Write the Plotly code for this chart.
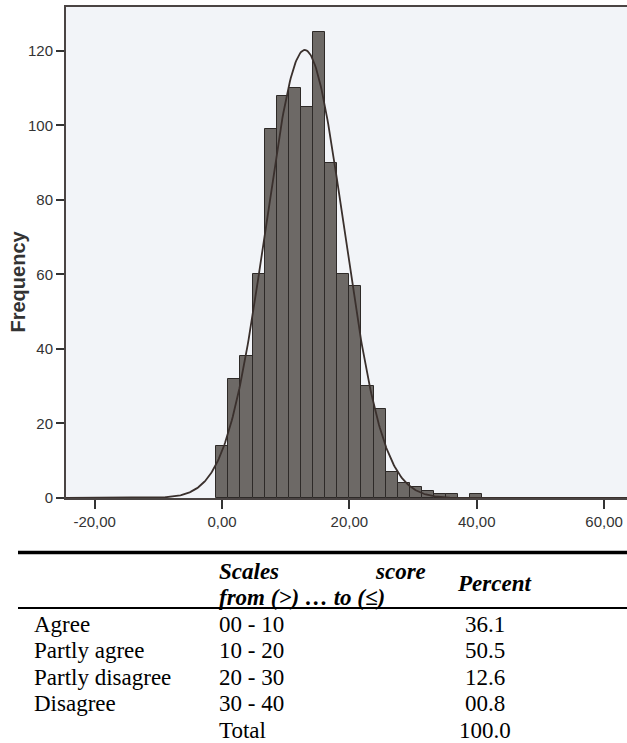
import numpy as np
import plotly.graph_objects as go

# ---------------- data ----------------
BIN_START = -0.9
BIN_WIDTH = 1.9
counts = [14, 32, 38, 60, 99, 108, 110, 105, 125, 90, 60, 57, 30, 24, 7, 4, 3, 2, 1, 1, 0, 1]
MEAN = 13.0
SD = 6.12

x_tick_vals = [-20, 0, 20, 40, 60]
x_tick_text = ["-20,00", "0,00", "20,00", "40,00", "60,00"]
y_tick_vals = [0, 20, 40, 60, 80, 100, 120]

categories = ["Agree", "Partly agree", "Partly disagree", "Disagree", ""]
score_ranges = ["00 - 10", "10 - 20", "20 - 30", "30 - 40", "Total"]
percents = ["36.1", "50.5", "12.6", "00.8", "100.0"]

# ---------------- derived ----------------
counts_arr = np.array(counts, dtype=float)
centers = BIN_START + BIN_WIDTH * (np.arange(len(counts)) + 0.5)
N = counts_arr.sum()
xc = np.linspace(-24.5, 63.6, 600)
yc = N * BIN_WIDTH * np.exp(-0.5 * ((xc - MEAN) / SD) ** 2) / (SD * np.sqrt(2 * np.pi))

W, H = 627, 743
ML, MR, MT, MB = 66, 0, 7, 245
PW = W - ML - MR
PH = H - MT - MB


def px(x):
    return (x - ML) / PW


def py(y):
    return (H - MB - y) / PH


fig = go.Figure()
fig.add_trace(go.Bar(
    x=centers, y=counts_arr, width=BIN_WIDTH,
    marker=dict(color="#6d6966", line=dict(color="#2e2a28", width=1)),
    hoverinfo="skip", showlegend=False,
))
fig.add_trace(go.Scatter(
    x=xc, y=yc, mode="lines",
    line=dict(color="#3a302d", width=1.8),
    hoverinfo="skip", showlegend=False,
))

tick_font = dict(family="Liberation Sans, Arial, sans-serif", size=15, color="#333333")

fig.update_layout(
    width=W, height=H,
    margin=dict(l=ML, r=MR, t=MT, b=MB, pad=0),
    paper_bgcolor="white",
    plot_bgcolor="#f2f4f8",
    bargap=0,
    xaxis=dict(
        range=[-24.5, 63.6], tickmode="array", tickvals=x_tick_vals, ticktext=x_tick_text,
        showgrid=False, zeroline=False, showline=True, mirror=True,
        linecolor="#4a4443", linewidth=2,
        ticks="outside", ticklen=9, tickwidth=2, tickcolor="#333333",
        tickfont=tick_font,
    ),
    yaxis=dict(
        range=[0, 131.8], tickmode="array", tickvals=y_tick_vals,
        showgrid=False, zeroline=False, showline=True,
        linecolor="#4a4443", linewidth=2,
        ticks="outside", ticklen=8, tickwidth=2, tickcolor="#333333",
        tickfont=tick_font,
    ),
)

annotations = []
annotations.append(dict(
    text="<b>Frequency</b>", x=px(17.5), y=py(282), xref="paper", yref="paper",
    textangle=-90, showarrow=False, xanchor="center", yanchor="middle",
    font=dict(family="Liberation Sans, Arial, sans-serif", size=20, color="#333333"),
))

serif = "Liberation Serif, Times New Roman, serif"
FS = 23
hdr_font = dict(family=serif, size=FS, color="black")

hdr = [
    dict(text="<b><i>Scales</i></b>", x=px(217), y=py(571), xanchor="left"),
    dict(text="<b><i>score</i></b>", x=px(428), y=py(571), xanchor="right"),
    dict(text="<b><i>from (&gt;) … to (≤)</i></b>", x=px(217), y=py(597), xanchor="left"),
    dict(text="<b><i>Percent</i></b>", x=px(455), y=py(583), xanchor="left"),
]
for a in hdr:
    a.update(xref="paper", yref="paper", showarrow=False, yanchor="middle", font=hdr_font)
annotations += hdr

row_y0 = 624
row_dy = 26.5
for i, (c, r, p) in enumerate(zip(categories, score_ranges, percents)):
    yy = py(row_y0 + i * row_dy)
    for txt, xx, anc in ((c, px(32), "left"), (r, px(217), "left"), (p, px(485), "center")):
        if txt:
            annotations.append(dict(
                text=txt, x=xx, y=yy, xref="paper", yref="paper", showarrow=False,
                xanchor=anc, yanchor="middle", font=dict(family=serif, size=FS, color="black"),
            ))

fig.update_layout(annotations=annotations)

fig.add_shape(type="line", xref="paper", yref="paper",
              x0=px(18), x1=px(627), y0=py(552.5), y1=py(552.5),
              line=dict(color="black", width=3.5))
fig.add_shape(type="line", xref="paper", yref="paper",
              x0=px(18), x1=px(627), y0=py(608), y1=py(608),
              line=dict(color="black", width=1.8))

fig.write_html(
    "out.html",
    config={"displayModeBar": False},
    post_script="document.body.style.margin='0';document.body.style.overflow='hidden';",
)
